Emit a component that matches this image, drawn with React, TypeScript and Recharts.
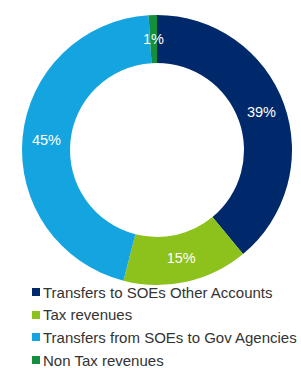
import { PieChart, Pie, Cell, Legend } from "recharts";

const categories = [
  "Transfers to SOEs Other Accounts",
  "Tax revenues",
  "Transfers from SOEs to Gov Agencies",
  "Non Tax revenues",
];
const shares = [39, 15, 45, 1];
const colors = ["#00296c", "#8dc11b", "#14a5e0", "#148f3c"];

const data = categories.map((name, i) => ({ name, value: shares[i] }));

const RADIAN = Math.PI / 180;

function renderLabel(props: any) {
  const { cx, cy, midAngle, innerRadius, outerRadius, value } = props;
  const r = (innerRadius + outerRadius) / 2;
  const x = cx + r * Math.cos(-midAngle * RADIAN);
  const y = cy + r * Math.sin(-midAngle * RADIAN);
  return (
    <text
      x={x}
      y={y}
      fill="#ffffff"
      textAnchor="middle"
      dominantBaseline="central"
      fontSize={14.5}
      fontFamily="Liberation Sans, Arial, sans-serif"
    >
      {value}%
    </text>
  );
}

function LegendList() {
  return (
    <div style={{ fontFamily: "Liberation Sans, Arial, sans-serif", fontSize: 15, lineHeight: "15px", color: "#333" }}>
      {data.map((d, i) => (
        <div key={d.name} style={{ display: "flex", alignItems: "center", height: 22.6, whiteSpace: "nowrap" }}>
          <span
            style={{
              display: "inline-block",
              width: 8,
              height: 8,
              background: colors[i],
              marginRight: 3,
              flexShrink: 0,
            }}
          />
          <span>{d.name}</span>
        </div>
      ))}
    </div>
  );
}

export default function App() {
  return (
    <div style={{ position: "absolute", left: 0, top: 0, width: 301, height: 368, background: "#fff" }}>
      <PieChart width={301} height={368}>
        <Pie
          data={data}
          dataKey="value"
          nameKey="name"
          cx={152}
          cy={145}
          innerRadius={87}
          outerRadius={135}
          startAngle={90}
          endAngle={-270}
          stroke="none"
          label={renderLabel}
          labelLine={false}
          isAnimationActive={false}
        >
          {data.map((d, i) => (
            <Cell key={d.name} fill={colors[i]} />
          ))}
        </Pie>
        <Legend
          content={() => <LegendList />}
          wrapperStyle={{ position: "absolute", left: 32, top: 281, width: 269 }}
        />
      </PieChart>
    </div>
  );
}
